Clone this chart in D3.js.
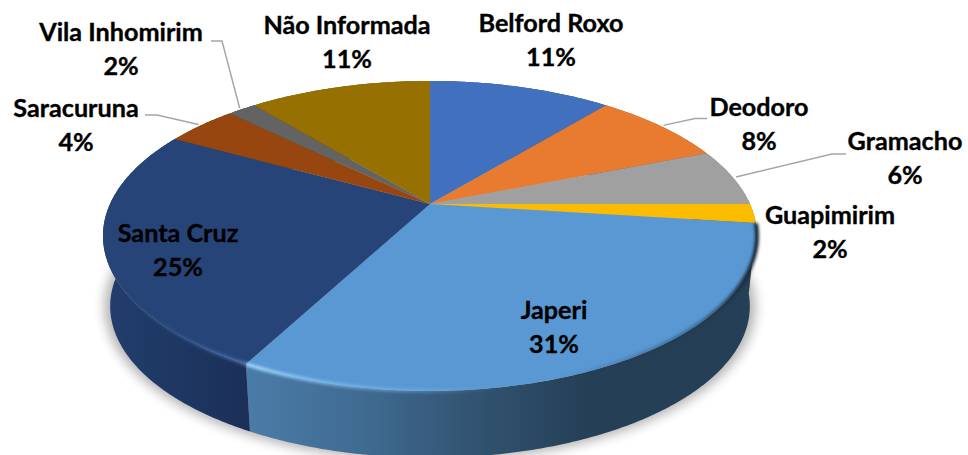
<!DOCTYPE html>
<html><head><meta charset="utf-8">
<script src="https://cdn.jsdelivr.net/npm/d3@7"></script>
<style>html,body{margin:0;padding:0;background:#fff;overflow:hidden}svg{display:block}
text{font-family:Lato,"Open Sans",sans-serif;font-weight:700;fill:#000;stroke:#000;stroke-width:0.35px;font-size:25.2px;text-anchor:middle}</style>
</head><body><svg id="c" width="968" height="455"></svg>
<script>
const categories = ["Belford Roxo","Deodoro","Gramacho","Guapimirim","Japeri","Santa Cruz","Saracuruna","Vila Inhomirim","Não Informada"];
const shares = [11,8,6,2,30.8,25.2,4.3,1.7,11];
const colors = ["#4170be","#e97b30","#a0a0a0","#fbbc00","#5998d3","#264478","#98460f","#636363","#967000"];

// layout (pixels) of the label blocks: centre x, first-line baseline
const labelPos = [[551,32],[759,116],[905,150],[830,224],[554,319],[178,242],[76,117],[121,41],[347,34]];
// leader lines start at the label, then an elbow; they end on the slice rim
const leaders = {1:[[707,118.5],[695,118.5]],2:[[846,154],[832,154]],6:[[145,115],[157,115]],7:[[211,41],[222,41]]};

const cx=430, y0=204, Rx=320, Ry=148.4, k=0.206, drop=71, shrink=0.978;
const project=(a,r=1,dy=0,s=1)=>{const u=Math.sin(a)*r,v=Math.cos(a)*r,d=1+k*v;
  return [cx+Rx*s*u/d, y0+dy-Ry*s*v/d];};
const arcPts=(a0,a1,dy=0,s=1)=>{const n=Math.max(2,Math.ceil((a1-a0)/0.01));
  return d3.range(n+1).map(i=>project(a0+(a1-a0)*i/n,1,dy,s));};
const line=d3.line(), closed=pts=>line(pts)+"Z";

const pie=d3.pie().sort(null).value(d=>d)(shares);
const svg=d3.select("#c"), defs=svg.append("defs");

const blur=(id,sd)=>defs.append("filter").attr("id",id).attr("x","-20%").attr("y","-20%").attr("width","140%").attr("height","140%")
  .append("feGaussianBlur").attr("stdDeviation",sd);
blur("b6",6); blur("b1",1.4);
const grad=(id,x1,x2,stops)=>{const g=defs.append("linearGradient").attr("id",id).attr("gradientUnits","userSpaceOnUse")
  .attr("x1",x1).attr("x2",x2).attr("y1",0).attr("y2",0);
  stops.forEach(([o,c,op])=>g.append("stop").attr("offset",o).attr("stop-color",c).attr("stop-opacity",op??1));};
grad("wallJ",248,590,[[0,"#4a7ca8"],[0.35,"#3f6a90"],[0.65,"#325472"],[1,"#253f56"]]);
grad("wallS",105,250,[[0,"#223e6c"],[0.5,"#1e3763"],[1,"#1b2f58"]]);
grad("hiJ",248,500,[[0,"#a5dcff",1],[0.35,"#86c6f8",0.7],[1,"#86c6f8",0]]);
grad("hiS",120,250,[[0,"#3f6aa5",0],[0.5,"#3f6aa5",0.45],[1,"#5b86c0",0.85]]);
grad("dkJ",560,757,[[0,"#1c3346",0],[0.7,"#1c3346",0.5],[1,"#14222f",1]]);

// ground shadow
svg.append("path").attr("d",closed(arcPts(0,2*Math.PI,71,0.995))).attr("fill","#000").attr("opacity",0.3).attr("filter","url(#b6)");

// walls
const wallFill={4:"url(#wallJ)",5:"url(#wallS)"};
svg.append("g").selectAll("path").data(pie).join("path")
  .attr("d",d=>closed(arcPts(d.startAngle,d.endAngle).concat(arcPts(d.startAngle,d.endAngle,drop,shrink).reverse())))
  .attr("fill",(d,i)=>wallFill[i]||d3.color(colors[i]).darker(1.2));

// top faces
svg.append("g").selectAll("path").data(pie).join("path")
  .attr("d",d=>closed([project(0,0)].concat(arcPts(d.startAngle,d.endAngle))))
  .attr("fill",(d,i)=>colors[i]);

// rim bevels on the front edge
const rim=svg.append("g").attr("fill","none");
const J=pie[4],S=pie[5];
rim.append("path").attr("d",line(arcPts(J.startAngle,J.endAngle))).attr("stroke","url(#hiJ)").attr("stroke-width",3.5).attr("filter","url(#b1)");
rim.append("path").attr("d",line(arcPts(J.startAngle,J.endAngle))).attr("stroke","url(#dkJ)").attr("stroke-width",4).attr("filter","url(#b1)");
rim.append("path").attr("d",line(arcPts(S.startAngle,S.startAngle+1.05))).attr("stroke","url(#hiS)").attr("stroke-width",3).attr("filter","url(#b1)");

// leaders
const lg=svg.append("g").attr("fill","none").attr("stroke","#a6a6a6").attr("stroke-width",1.5);
Object.keys(leaders).forEach(i=>{const d=pie[+i],mid=(d.startAngle+d.endAngle)/2;
  lg.append("path").attr("d",line(leaders[i].concat([project(mid,1.012)])));});

// labels
const lab=svg.append("g");
categories.forEach((c,i)=>{const [x,y]=labelPos[i];
  lab.append("text").attr("x",x).attr("y",y).text(c);
  lab.append("text").attr("x",x).attr("y",y+33.5).text(d3.format(".0f")(shares[i])+"%");});
</script></body></html>
